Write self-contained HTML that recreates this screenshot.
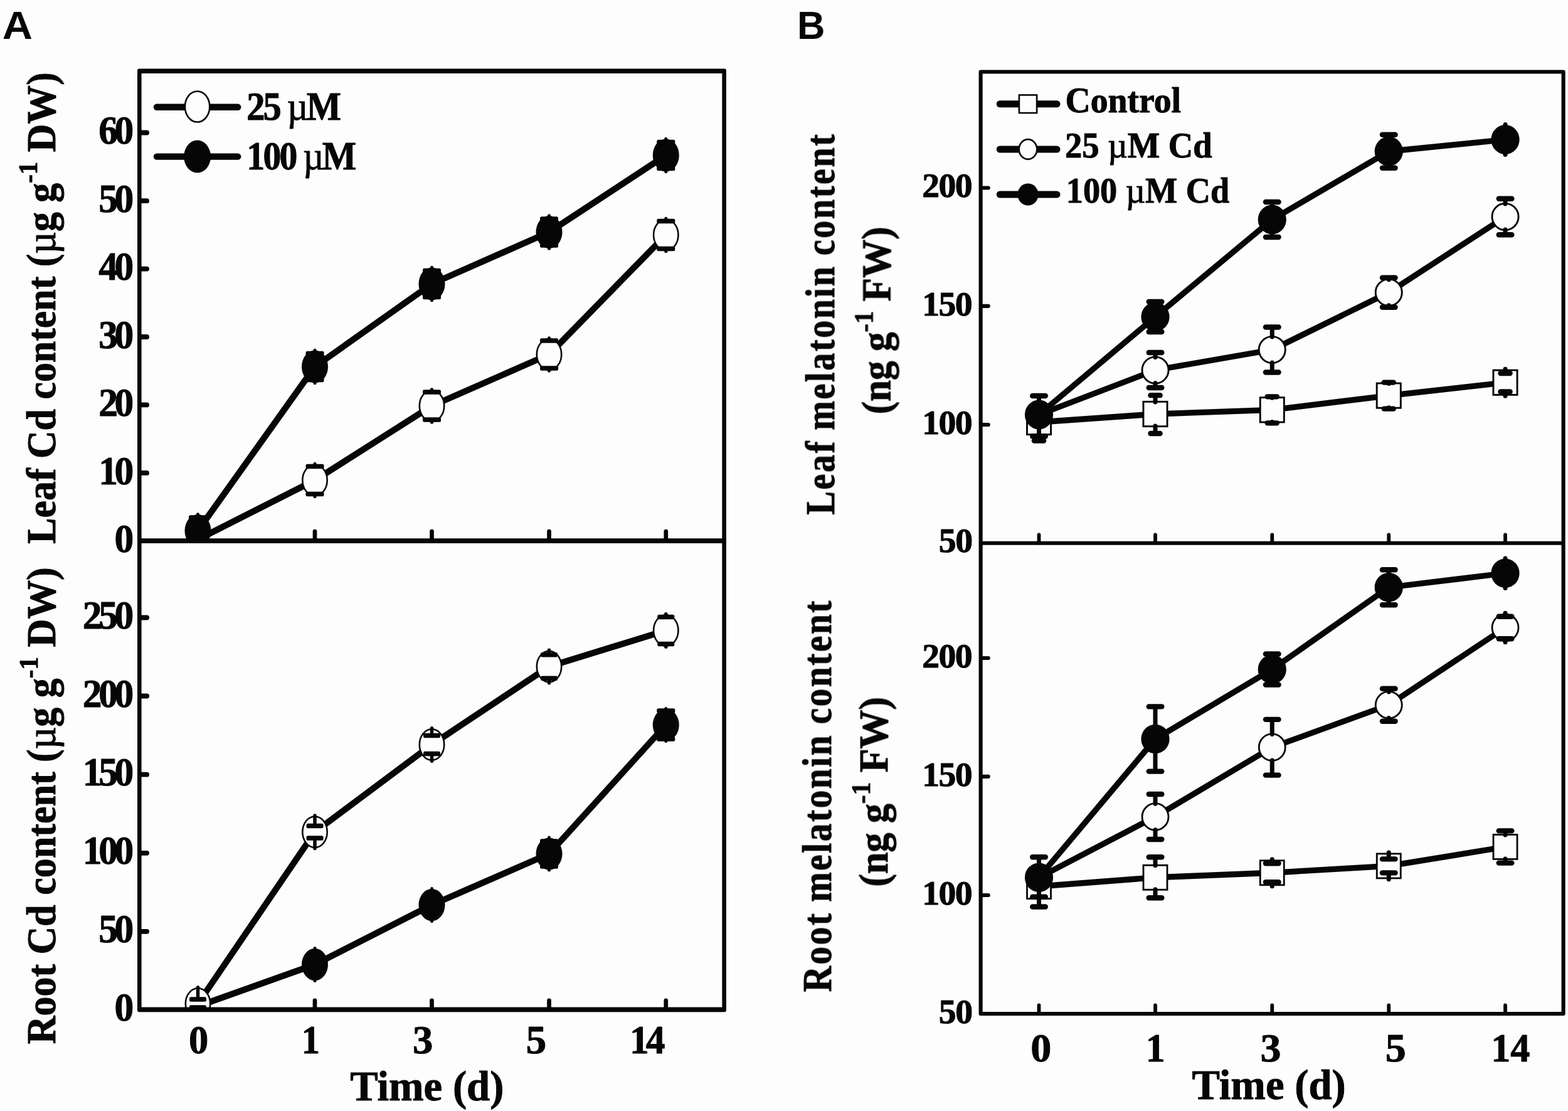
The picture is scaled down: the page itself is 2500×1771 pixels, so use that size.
<!DOCTYPE html>
<html lang="en">
<head>
<meta charset="utf-8">
<title>Cd and melatonin content time course</title>
<style>
html,body{margin:0;padding:0;background:#fdfdfd;}
body{width:2500px;height:1771px;overflow:hidden;}
svg{display:block;}
svg text{font-family:"Liberation Serif","DejaVu Serif",serif;font-weight:bold;fill:#060606;stroke:#060606;stroke-width:1;stroke-linejoin:round;}
svg text.sans{font-family:"Liberation Sans","DejaVu Sans",sans-serif;stroke:none;}
</style>
</head>
<body>
<svg width="2500" height="1771" viewBox="0 0 2500 1771" role="img" aria-label="Figure: Cd and melatonin content over time">
<rect width="2500" height="1771" fill="#fdfdfd"/>
<defs><filter id="soft" filterUnits="userSpaceOnUse" x="0" y="0" width="2500" height="1771" color-interpolation-filters="sRGB"><feGaussianBlur stdDeviation="0.55"/></filter><clipPath id="ca1"><rect x="222.3" y="113.25" width="932.3" height="748.85"/></clipPath><clipPath id="ca2"><rect x="222.3" y="862.1" width="932.3" height="747.3"/></clipPath><clipPath id="cb1"><rect x="1563.6" y="114.5" width="929" height="751.2"/></clipPath><clipPath id="cb2"><rect x="1563.6" y="865.7" width="929" height="750.4"/></clipPath></defs>
<g filter="url(#soft)">
<g id="plots">
<g clip-path="url(#ca1)">
<polyline points="315.5,860 502,765.5 688.5,647 875.5,565 1061.75,374.5" fill="none" stroke="#060606" stroke-width="10" stroke-linejoin="round" stroke-linecap="round"/>
<ellipse cx="502" cy="765.5" rx="19.7" ry="24.7" fill="#fdfdfd" stroke="#060606" stroke-width="2.6"/>
<line x1="502" y1="743.5" x2="502" y2="739.2" stroke="#060606" stroke-width="5" stroke-linecap="round"/>
<rect x="487.5" y="739.75" width="29" height="7.5" fill="#060606" rx="2.5"/>
<line x1="502" y1="787.5" x2="502" y2="791.8" stroke="#060606" stroke-width="5" stroke-linecap="round"/>
<rect x="487.5" y="783.75" width="29" height="7.5" fill="#060606" rx="2.5"/>
<ellipse cx="688.5" cy="647" rx="19.7" ry="24.7" fill="#fdfdfd" stroke="#060606" stroke-width="2.6"/>
<line x1="688.5" y1="625" x2="688.5" y2="620.7" stroke="#060606" stroke-width="5" stroke-linecap="round"/>
<rect x="674" y="621.25" width="29" height="7.5" fill="#060606" rx="2.5"/>
<line x1="688.5" y1="669" x2="688.5" y2="673.3" stroke="#060606" stroke-width="5" stroke-linecap="round"/>
<rect x="674" y="665.25" width="29" height="7.5" fill="#060606" rx="2.5"/>
<ellipse cx="875.5" cy="565" rx="19.7" ry="24.7" fill="#fdfdfd" stroke="#060606" stroke-width="2.6"/>
<line x1="875.5" y1="543" x2="875.5" y2="538.7" stroke="#060606" stroke-width="5" stroke-linecap="round"/>
<rect x="861" y="539.25" width="29" height="7.5" fill="#060606" rx="2.5"/>
<line x1="875.5" y1="587" x2="875.5" y2="591.3" stroke="#060606" stroke-width="5" stroke-linecap="round"/>
<rect x="861" y="583.25" width="29" height="7.5" fill="#060606" rx="2.5"/>
<ellipse cx="1061.75" cy="374.5" rx="19.7" ry="24.7" fill="#fdfdfd" stroke="#060606" stroke-width="2.6"/>
<line x1="1061.75" y1="352.5" x2="1061.75" y2="348.2" stroke="#060606" stroke-width="5" stroke-linecap="round"/>
<rect x="1047.25" y="348.75" width="29" height="7.5" fill="#060606" rx="2.5"/>
<line x1="1061.75" y1="396.5" x2="1061.75" y2="400.8" stroke="#060606" stroke-width="5" stroke-linecap="round"/>
<rect x="1047.25" y="392.75" width="29" height="7.5" fill="#060606" rx="2.5"/>
<polyline points="315.5,846 502,584.5 688.5,452.5 875.5,370 1061.75,247.5" fill="none" stroke="#060606" stroke-width="10" stroke-linejoin="round" stroke-linecap="round"/>
<ellipse cx="315.5" cy="846" rx="21" ry="26" fill="#060606"/>
<line x1="315.5" y1="825" x2="315.5" y2="819.7" stroke="#060606" stroke-width="5" stroke-linecap="round"/>
<rect x="301" y="821.25" width="29" height="7.5" fill="#060606" rx="2.5"/>
<line x1="315.5" y1="867" x2="315.5" y2="872.3" stroke="#060606" stroke-width="5" stroke-linecap="round"/>
<rect x="301" y="863.25" width="29" height="7.5" fill="#060606" rx="2.5"/>
<ellipse cx="502" cy="584.5" rx="21" ry="26" fill="#060606"/>
<line x1="502" y1="563.5" x2="502" y2="558.2" stroke="#060606" stroke-width="5" stroke-linecap="round"/>
<rect x="487.5" y="559.75" width="29" height="7.5" fill="#060606" rx="2.5"/>
<line x1="502" y1="605.5" x2="502" y2="610.8" stroke="#060606" stroke-width="5" stroke-linecap="round"/>
<rect x="487.5" y="601.75" width="29" height="7.5" fill="#060606" rx="2.5"/>
<ellipse cx="688.5" cy="452.5" rx="21" ry="26" fill="#060606"/>
<line x1="688.5" y1="431.5" x2="688.5" y2="426.2" stroke="#060606" stroke-width="5" stroke-linecap="round"/>
<rect x="674" y="427.75" width="29" height="7.5" fill="#060606" rx="2.5"/>
<line x1="688.5" y1="473.5" x2="688.5" y2="478.8" stroke="#060606" stroke-width="5" stroke-linecap="round"/>
<rect x="674" y="469.75" width="29" height="7.5" fill="#060606" rx="2.5"/>
<ellipse cx="875.5" cy="370" rx="21" ry="26" fill="#060606"/>
<line x1="875.5" y1="349" x2="875.5" y2="343.7" stroke="#060606" stroke-width="5" stroke-linecap="round"/>
<rect x="861" y="345.25" width="29" height="7.5" fill="#060606" rx="2.5"/>
<line x1="875.5" y1="391" x2="875.5" y2="396.3" stroke="#060606" stroke-width="5" stroke-linecap="round"/>
<rect x="861" y="387.25" width="29" height="7.5" fill="#060606" rx="2.5"/>
<ellipse cx="1061.75" cy="247.5" rx="21" ry="26" fill="#060606"/>
<line x1="1061.75" y1="226.5" x2="1061.75" y2="221.2" stroke="#060606" stroke-width="5" stroke-linecap="round"/>
<rect x="1047.25" y="222.75" width="29" height="7.5" fill="#060606" rx="2.5"/>
<line x1="1061.75" y1="268.5" x2="1061.75" y2="273.8" stroke="#060606" stroke-width="5" stroke-linecap="round"/>
<rect x="1047.25" y="264.75" width="29" height="7.5" fill="#060606" rx="2.5"/>
</g>
<g clip-path="url(#ca2)">
<polyline points="315.5,1604 502,1537.5 688.5,1442.5 875.5,1361 1061.75,1155.5" fill="none" stroke="#060606" stroke-width="10" stroke-linejoin="round" stroke-linecap="round"/>
<ellipse cx="502" cy="1537.5" rx="21" ry="25.6" fill="#060606"/>
<line x1="502" y1="1527.5" x2="502" y2="1511.6" stroke="#060606" stroke-width="5" stroke-linecap="round"/>
<rect x="487.5" y="1523.75" width="29" height="7.5" fill="#060606" rx="2.5"/>
<line x1="502" y1="1547.5" x2="502" y2="1563.4" stroke="#060606" stroke-width="5" stroke-linecap="round"/>
<rect x="487.5" y="1543.75" width="29" height="7.5" fill="#060606" rx="2.5"/>
<ellipse cx="688.5" cy="1442.5" rx="21" ry="25.6" fill="#060606"/>
<line x1="688.5" y1="1432.5" x2="688.5" y2="1416.6" stroke="#060606" stroke-width="5" stroke-linecap="round"/>
<rect x="674" y="1428.75" width="29" height="7.5" fill="#060606" rx="2.5"/>
<line x1="688.5" y1="1452.5" x2="688.5" y2="1468.4" stroke="#060606" stroke-width="5" stroke-linecap="round"/>
<rect x="674" y="1448.75" width="29" height="7.5" fill="#060606" rx="2.5"/>
<ellipse cx="875.5" cy="1361" rx="21" ry="25.6" fill="#060606"/>
<line x1="875.5" y1="1341" x2="875.5" y2="1335.1" stroke="#060606" stroke-width="5" stroke-linecap="round"/>
<rect x="861" y="1337.25" width="29" height="7.5" fill="#060606" rx="2.5"/>
<line x1="875.5" y1="1381" x2="875.5" y2="1386.9" stroke="#060606" stroke-width="5" stroke-linecap="round"/>
<rect x="861" y="1377.25" width="29" height="7.5" fill="#060606" rx="2.5"/>
<ellipse cx="1061.75" cy="1155.5" rx="21" ry="25.6" fill="#060606"/>
<line x1="1061.75" y1="1133" x2="1061.75" y2="1129.6" stroke="#060606" stroke-width="5" stroke-linecap="round"/>
<rect x="1047.25" y="1129.25" width="29" height="7.5" fill="#060606" rx="2.5"/>
<line x1="1061.75" y1="1178" x2="1061.75" y2="1181.4" stroke="#060606" stroke-width="5" stroke-linecap="round"/>
<rect x="1047.25" y="1174.25" width="29" height="7.5" fill="#060606" rx="2.5"/>
<polyline points="315.5,1600 502,1326.25 688.5,1187 875.5,1062.5 1061.75,1005" fill="none" stroke="#060606" stroke-width="10" stroke-linejoin="round" stroke-linecap="round"/>
<ellipse cx="315.5" cy="1600" rx="19.7" ry="24.7" fill="#fdfdfd" stroke="#060606" stroke-width="2.6"/>
<line x1="315.5" y1="1593" x2="315.5" y2="1573.7" stroke="#060606" stroke-width="5.5" stroke-linecap="round"/>
<rect x="302" y="1589.25" width="27" height="7.5" fill="#060606" rx="2.5"/>
<line x1="315.5" y1="1606" x2="315.5" y2="1626.3" stroke="#060606" stroke-width="5.5" stroke-linecap="round"/>
<rect x="302" y="1602.25" width="27" height="7.5" fill="#060606" rx="2.5"/>
<ellipse cx="502" cy="1326.25" rx="19.7" ry="24.7" fill="#fdfdfd" stroke="#060606" stroke-width="2.6"/>
<line x1="502" y1="1316.5" x2="502" y2="1299.95" stroke="#060606" stroke-width="5.5" stroke-linecap="round"/>
<rect x="488.5" y="1312.75" width="27" height="7.5" fill="#060606" rx="2.5"/>
<line x1="502" y1="1336" x2="502" y2="1352.55" stroke="#060606" stroke-width="5.5" stroke-linecap="round"/>
<rect x="488.5" y="1332.25" width="27" height="7.5" fill="#060606" rx="2.5"/>
<ellipse cx="688.5" cy="1187" rx="19.7" ry="24.7" fill="#fdfdfd" stroke="#060606" stroke-width="2.6"/>
<line x1="688.5" y1="1172.6" x2="688.5" y2="1160.7" stroke="#060606" stroke-width="5.5" stroke-linecap="round"/>
<rect x="675" y="1168.85" width="27" height="7.5" fill="#060606" rx="2.5"/>
<line x1="688.5" y1="1201.4" x2="688.5" y2="1213.3" stroke="#060606" stroke-width="5.5" stroke-linecap="round"/>
<rect x="675" y="1197.65" width="27" height="7.5" fill="#060606" rx="2.5"/>
<ellipse cx="875.5" cy="1062.5" rx="19.7" ry="24.7" fill="#fdfdfd" stroke="#060606" stroke-width="2.6"/>
<line x1="875.5" y1="1043.75" x2="875.5" y2="1036.2" stroke="#060606" stroke-width="5.5" stroke-linecap="round"/>
<rect x="862" y="1040" width="27" height="7.5" fill="#060606" rx="2.5"/>
<line x1="875.5" y1="1081.25" x2="875.5" y2="1088.8" stroke="#060606" stroke-width="5.5" stroke-linecap="round"/>
<rect x="862" y="1077.5" width="27" height="7.5" fill="#060606" rx="2.5"/>
<ellipse cx="1061.75" cy="1005" rx="19.7" ry="24.7" fill="#fdfdfd" stroke="#060606" stroke-width="2.6"/>
<line x1="1061.75" y1="983.4" x2="1061.75" y2="978.7" stroke="#060606" stroke-width="5.5" stroke-linecap="round"/>
<rect x="1048.25" y="979.65" width="27" height="7.5" fill="#060606" rx="2.5"/>
<line x1="1061.75" y1="1026.6" x2="1061.75" y2="1031.3" stroke="#060606" stroke-width="5.5" stroke-linecap="round"/>
<rect x="1048.25" y="1022.85" width="27" height="7.5" fill="#060606" rx="2.5"/>
</g>
<line x1="223.5" y1="211.5" x2="234.1" y2="211.5" stroke="#060606" stroke-width="7.8" stroke-linecap="round"/>
<line x1="223.5" y1="320.2" x2="234.1" y2="320.2" stroke="#060606" stroke-width="7.8" stroke-linecap="round"/>
<line x1="223.5" y1="428.6" x2="234.1" y2="428.6" stroke="#060606" stroke-width="7.8" stroke-linecap="round"/>
<line x1="223.5" y1="537" x2="234.1" y2="537" stroke="#060606" stroke-width="7.8" stroke-linecap="round"/>
<line x1="223.5" y1="645.4" x2="234.1" y2="645.4" stroke="#060606" stroke-width="7.8" stroke-linecap="round"/>
<line x1="223.5" y1="753.9" x2="234.1" y2="753.9" stroke="#060606" stroke-width="7.8" stroke-linecap="round"/>
<line x1="223.5" y1="984.5" x2="234.1" y2="984.5" stroke="#060606" stroke-width="7.8" stroke-linecap="round"/>
<line x1="223.5" y1="1109.5" x2="234.1" y2="1109.5" stroke="#060606" stroke-width="7.8" stroke-linecap="round"/>
<line x1="223.5" y1="1234.7" x2="234.1" y2="1234.7" stroke="#060606" stroke-width="7.8" stroke-linecap="round"/>
<line x1="223.5" y1="1359.8" x2="234.1" y2="1359.8" stroke="#060606" stroke-width="7.8" stroke-linecap="round"/>
<line x1="223.5" y1="1484.8" x2="234.1" y2="1484.8" stroke="#060606" stroke-width="7.8" stroke-linecap="round"/>
<line x1="502" y1="861.6" x2="502" y2="847.05" stroke="#060606" stroke-width="6.7" stroke-linecap="round"/>
<line x1="688.5" y1="861.6" x2="688.5" y2="847.05" stroke="#060606" stroke-width="6.7" stroke-linecap="round"/>
<line x1="875.5" y1="861.6" x2="875.5" y2="847.05" stroke="#060606" stroke-width="6.7" stroke-linecap="round"/>
<line x1="1061.75" y1="861.6" x2="1061.75" y2="847.05" stroke="#060606" stroke-width="6.7" stroke-linecap="round"/>
<line x1="502" y1="1608.9" x2="502" y2="1594.8" stroke="#060606" stroke-width="6.7" stroke-linecap="round"/>
<line x1="688.5" y1="1608.9" x2="688.5" y2="1594.8" stroke="#060606" stroke-width="6.7" stroke-linecap="round"/>
<line x1="875.5" y1="1608.9" x2="875.5" y2="1594.8" stroke="#060606" stroke-width="6.7" stroke-linecap="round"/>
<line x1="1061.75" y1="1608.9" x2="1061.75" y2="1594.8" stroke="#060606" stroke-width="6.7" stroke-linecap="round"/>
<path d="M222 109.4H1154.9Q1157.9 109.4 1157.9 112.4V1610.25Q1157.9 1613.25 1154.9 1613.25H222Q219 1613.25 219 1610.25V112.4Q219 109.4 222 109.4ZM225.6 117.1H1151.3V858.25H225.6ZM225.6 865.95H1151.3V1605.55H225.6Z" fill="#060606" fill-rule="evenodd"/>
<line x1="249.95" y1="170.8" x2="379.2" y2="170.8" stroke="#060606" stroke-width="10.4" stroke-linecap="round"/>
<ellipse cx="314.6" cy="170" rx="19.7" ry="24.5" fill="#fdfdfd" stroke="#060606" stroke-width="2.6"/>
<line x1="249.95" y1="249.6" x2="379.2" y2="249.6" stroke="#060606" stroke-width="10.4" stroke-linecap="round"/>
<ellipse cx="314.6" cy="249.6" rx="21.4" ry="26" fill="#060606"/>
<g clip-path="url(#cb1)">
<polyline points="1656.5,673 1842,660 2028.25,653.3 2214.25,630.6 2400,609.75" fill="none" stroke="#060606" stroke-width="9.3" stroke-linejoin="round" stroke-linecap="round"/>
<rect x="1637.45" y="653.35" width="38.1" height="39.3" fill="#fdfdfd" stroke="#060606" stroke-width="2.9"/>
<line x1="1656.5" y1="692.1" x2="1656.5" y2="702.5" stroke="#060606" stroke-width="7" stroke-linecap="round"/>
<line x1="1648.9" y1="702.5" x2="1664.1" y2="702.5" stroke="#060606" stroke-width="8.3" stroke-linecap="round"/>
<rect x="1822.95" y="640.35" width="38.1" height="39.3" fill="#fdfdfd" stroke="#060606" stroke-width="2.9"/>
<line x1="1842" y1="640.9" x2="1842" y2="630.2" stroke="#060606" stroke-width="7" stroke-linecap="round"/>
<line x1="1834.4" y1="630.2" x2="1849.6" y2="630.2" stroke="#060606" stroke-width="8.3" stroke-linecap="round"/>
<line x1="1842" y1="679.1" x2="1842" y2="691" stroke="#060606" stroke-width="7" stroke-linecap="round"/>
<line x1="1834.4" y1="691" x2="1849.6" y2="691" stroke="#060606" stroke-width="8.3" stroke-linecap="round"/>
<rect x="2009.2" y="633.65" width="38.1" height="39.3" fill="#fdfdfd" stroke="#060606" stroke-width="2.9"/>
<line x1="2028.25" y1="634.2" x2="2028.25" y2="632.3" stroke="#060606" stroke-width="7" stroke-linecap="round"/>
<line x1="2020.65" y1="632.3" x2="2035.85" y2="632.3" stroke="#060606" stroke-width="8.3" stroke-linecap="round"/>
<line x1="2028.25" y1="672.4" x2="2028.25" y2="674.3" stroke="#060606" stroke-width="7" stroke-linecap="round"/>
<line x1="2020.65" y1="674.3" x2="2035.85" y2="674.3" stroke="#060606" stroke-width="8.3" stroke-linecap="round"/>
<rect x="2195.2" y="610.95" width="38.1" height="39.3" fill="#fdfdfd" stroke="#060606" stroke-width="2.9"/>
<line x1="2214.25" y1="611.5" x2="2214.25" y2="609.6" stroke="#060606" stroke-width="7" stroke-linecap="round"/>
<line x1="2206.65" y1="609.6" x2="2221.85" y2="609.6" stroke="#060606" stroke-width="8.3" stroke-linecap="round"/>
<line x1="2214.25" y1="649.7" x2="2214.25" y2="651.6" stroke="#060606" stroke-width="7" stroke-linecap="round"/>
<line x1="2206.65" y1="651.6" x2="2221.85" y2="651.6" stroke="#060606" stroke-width="8.3" stroke-linecap="round"/>
<rect x="2380.95" y="590.1" width="38.1" height="39.3" fill="#fdfdfd" stroke="#060606" stroke-width="2.9"/>
<line x1="2400" y1="595" x2="2400" y2="588.15" stroke="#060606" stroke-width="7" stroke-linecap="round"/>
<line x1="2392.4" y1="595" x2="2407.6" y2="595" stroke="#060606" stroke-width="8.3" stroke-linecap="round"/>
<line x1="2400" y1="624.5" x2="2400" y2="631.35" stroke="#060606" stroke-width="7" stroke-linecap="round"/>
<line x1="2392.4" y1="624.5" x2="2407.6" y2="624.5" stroke="#060606" stroke-width="8.3" stroke-linecap="round"/>
<polyline points="1656.5,661 1842,590 2028.25,557.5 2214.25,466.25 2400,345.5" fill="none" stroke="#060606" stroke-width="9.3" stroke-linejoin="round" stroke-linecap="round"/>
<ellipse cx="1842" cy="590" rx="21.05" ry="21.15" fill="#fdfdfd" stroke="#060606" stroke-width="2.9"/>
<line x1="1842" y1="569.4" x2="1842" y2="562" stroke="#060606" stroke-width="7" stroke-linecap="round"/>
<line x1="1831.65" y1="562" x2="1852.35" y2="562" stroke="#060606" stroke-width="8.3" stroke-linecap="round"/>
<line x1="1842" y1="610.6" x2="1842" y2="618" stroke="#060606" stroke-width="7" stroke-linecap="round"/>
<line x1="1831.65" y1="618" x2="1852.35" y2="618" stroke="#060606" stroke-width="8.3" stroke-linecap="round"/>
<ellipse cx="2028.25" cy="557.5" rx="21.05" ry="21.15" fill="#fdfdfd" stroke="#060606" stroke-width="2.9"/>
<line x1="2028.25" y1="536.9" x2="2028.25" y2="521.5" stroke="#060606" stroke-width="7" stroke-linecap="round"/>
<line x1="2017.9" y1="521.5" x2="2038.6" y2="521.5" stroke="#060606" stroke-width="8.3" stroke-linecap="round"/>
<line x1="2028.25" y1="578.1" x2="2028.25" y2="593.5" stroke="#060606" stroke-width="7" stroke-linecap="round"/>
<line x1="2017.9" y1="593.5" x2="2038.6" y2="593.5" stroke="#060606" stroke-width="8.3" stroke-linecap="round"/>
<ellipse cx="2214.25" cy="466.25" rx="21.05" ry="21.15" fill="#fdfdfd" stroke="#060606" stroke-width="2.9"/>
<line x1="2214.25" y1="445.65" x2="2214.25" y2="442.75" stroke="#060606" stroke-width="7" stroke-linecap="round"/>
<line x1="2203.9" y1="442.75" x2="2224.6" y2="442.75" stroke="#060606" stroke-width="8.3" stroke-linecap="round"/>
<line x1="2214.25" y1="486.85" x2="2214.25" y2="489.75" stroke="#060606" stroke-width="7" stroke-linecap="round"/>
<line x1="2203.9" y1="489.75" x2="2224.6" y2="489.75" stroke="#060606" stroke-width="8.3" stroke-linecap="round"/>
<ellipse cx="2400" cy="345.5" rx="21.05" ry="21.15" fill="#fdfdfd" stroke="#060606" stroke-width="2.9"/>
<line x1="2400" y1="324.9" x2="2400" y2="316.75" stroke="#060606" stroke-width="7" stroke-linecap="round"/>
<line x1="2389.65" y1="316.75" x2="2410.35" y2="316.75" stroke="#060606" stroke-width="8.3" stroke-linecap="round"/>
<line x1="2400" y1="366.1" x2="2400" y2="374.25" stroke="#060606" stroke-width="7" stroke-linecap="round"/>
<line x1="2389.65" y1="374.25" x2="2410.35" y2="374.25" stroke="#060606" stroke-width="8.3" stroke-linecap="round"/>
<polyline points="1656.5,661 1842,505 2028.25,350 2214.25,241.25 2400,222.5" fill="none" stroke="#060606" stroke-width="9.3" stroke-linejoin="round" stroke-linecap="round"/>
<ellipse cx="1656.5" cy="661" rx="22.6" ry="23.5" fill="#060606"/>
<line x1="1656.5" y1="639.5" x2="1656.5" y2="631" stroke="#060606" stroke-width="7" stroke-linecap="round"/>
<line x1="1646.15" y1="631" x2="1666.85" y2="631" stroke="#060606" stroke-width="8.3" stroke-linecap="round"/>
<line x1="1656.5" y1="682.5" x2="1656.5" y2="695.5" stroke="#060606" stroke-width="7" stroke-linecap="round"/>
<line x1="1646.15" y1="695.5" x2="1666.85" y2="695.5" stroke="#060606" stroke-width="8.3" stroke-linecap="round"/>
<ellipse cx="1842" cy="505" rx="22.6" ry="23.5" fill="#060606"/>
<line x1="1842" y1="483.5" x2="1842" y2="481" stroke="#060606" stroke-width="7" stroke-linecap="round"/>
<line x1="1831.65" y1="481" x2="1852.35" y2="481" stroke="#060606" stroke-width="8.3" stroke-linecap="round"/>
<line x1="1842" y1="526.5" x2="1842" y2="529" stroke="#060606" stroke-width="7" stroke-linecap="round"/>
<line x1="1831.65" y1="529" x2="1852.35" y2="529" stroke="#060606" stroke-width="8.3" stroke-linecap="round"/>
<ellipse cx="2028.25" cy="350" rx="22.6" ry="23.5" fill="#060606"/>
<line x1="2028.25" y1="328.5" x2="2028.25" y2="322" stroke="#060606" stroke-width="7" stroke-linecap="round"/>
<line x1="2017.9" y1="322" x2="2038.6" y2="322" stroke="#060606" stroke-width="8.3" stroke-linecap="round"/>
<line x1="2028.25" y1="371.5" x2="2028.25" y2="378" stroke="#060606" stroke-width="7" stroke-linecap="round"/>
<line x1="2017.9" y1="378" x2="2038.6" y2="378" stroke="#060606" stroke-width="8.3" stroke-linecap="round"/>
<ellipse cx="2214.25" cy="241.25" rx="22.6" ry="23.5" fill="#060606"/>
<line x1="2214.25" y1="219.75" x2="2214.25" y2="214.75" stroke="#060606" stroke-width="7" stroke-linecap="round"/>
<line x1="2203.9" y1="214.75" x2="2224.6" y2="214.75" stroke="#060606" stroke-width="8.3" stroke-linecap="round"/>
<line x1="2214.25" y1="262.75" x2="2214.25" y2="267.75" stroke="#060606" stroke-width="7" stroke-linecap="round"/>
<line x1="2203.9" y1="267.75" x2="2224.6" y2="267.75" stroke="#060606" stroke-width="8.3" stroke-linecap="round"/>
<ellipse cx="2400" cy="222.5" rx="22.6" ry="23.5" fill="#060606"/>
<line x1="2400" y1="222.5" x2="2400" y2="198.5" stroke="#060606" stroke-width="7" stroke-linecap="round"/>
<line x1="2400" y1="222.5" x2="2400" y2="246.5" stroke="#060606" stroke-width="7" stroke-linecap="round"/>
</g>
<g clip-path="url(#cb2)">
<polyline points="1656.5,1413 1842,1398.75 2028.25,1391.25 2214.25,1380.4 2400,1350" fill="none" stroke="#060606" stroke-width="9.3" stroke-linejoin="round" stroke-linecap="round"/>
<rect x="1637.5" y="1393.5" width="38" height="39" fill="#fdfdfd" stroke="#060606" stroke-width="2.8"/>
<line x1="1656.5" y1="1431.9" x2="1656.5" y2="1445.5" stroke="#060606" stroke-width="7" stroke-linecap="round"/>
<line x1="1646.15" y1="1445.5" x2="1666.85" y2="1445.5" stroke="#060606" stroke-width="8.3" stroke-linecap="round"/>
<rect x="1823" y="1379.25" width="38" height="39" fill="#fdfdfd" stroke="#060606" stroke-width="2.8"/>
<line x1="1842" y1="1379.85" x2="1842" y2="1366.25" stroke="#060606" stroke-width="7" stroke-linecap="round"/>
<line x1="1831.65" y1="1366.25" x2="1852.35" y2="1366.25" stroke="#060606" stroke-width="8.3" stroke-linecap="round"/>
<line x1="1842" y1="1417.65" x2="1842" y2="1431.25" stroke="#060606" stroke-width="7" stroke-linecap="round"/>
<line x1="1831.65" y1="1431.25" x2="1852.35" y2="1431.25" stroke="#060606" stroke-width="8.3" stroke-linecap="round"/>
<rect x="2009.25" y="1371.75" width="38" height="39" fill="#fdfdfd" stroke="#060606" stroke-width="2.8"/>
<line x1="2028.25" y1="1376.25" x2="2028.25" y2="1369.85" stroke="#060606" stroke-width="7" stroke-linecap="round"/>
<line x1="2017.9" y1="1376.25" x2="2038.6" y2="1376.25" stroke="#060606" stroke-width="8.3" stroke-linecap="round"/>
<line x1="2028.25" y1="1406.25" x2="2028.25" y2="1412.65" stroke="#060606" stroke-width="7" stroke-linecap="round"/>
<line x1="2017.9" y1="1406.25" x2="2038.6" y2="1406.25" stroke="#060606" stroke-width="8.3" stroke-linecap="round"/>
<rect x="2195.25" y="1360.9" width="38" height="39" fill="#fdfdfd" stroke="#060606" stroke-width="2.8"/>
<line x1="2214.25" y1="1369.4" x2="2214.25" y2="1359" stroke="#060606" stroke-width="7" stroke-linecap="round"/>
<line x1="2203.9" y1="1369.4" x2="2224.6" y2="1369.4" stroke="#060606" stroke-width="8.3" stroke-linecap="round"/>
<line x1="2214.25" y1="1391.4" x2="2214.25" y2="1401.8" stroke="#060606" stroke-width="7" stroke-linecap="round"/>
<line x1="2203.9" y1="1391.4" x2="2224.6" y2="1391.4" stroke="#060606" stroke-width="8.3" stroke-linecap="round"/>
<rect x="2381" y="1330.5" width="38" height="39" fill="#fdfdfd" stroke="#060606" stroke-width="2.8"/>
<line x1="2400" y1="1331.1" x2="2400" y2="1324.4" stroke="#060606" stroke-width="7" stroke-linecap="round"/>
<line x1="2389.65" y1="1324.4" x2="2410.35" y2="1324.4" stroke="#060606" stroke-width="8.3" stroke-linecap="round"/>
<line x1="2400" y1="1368.9" x2="2400" y2="1375.6" stroke="#060606" stroke-width="7" stroke-linecap="round"/>
<line x1="2389.65" y1="1375.6" x2="2410.35" y2="1375.6" stroke="#060606" stroke-width="8.3" stroke-linecap="round"/>
<polyline points="1656.5,1398.75 1842,1302 2028.25,1191.25 2214.25,1123.75 2400,1000.5" fill="none" stroke="#060606" stroke-width="9.3" stroke-linejoin="round" stroke-linecap="round"/>
<ellipse cx="1842" cy="1302" rx="21" ry="21.35" fill="#fdfdfd" stroke="#060606" stroke-width="2.8"/>
<line x1="1842" y1="1281.25" x2="1842" y2="1266" stroke="#060606" stroke-width="7" stroke-linecap="round"/>
<line x1="1831.65" y1="1266" x2="1852.35" y2="1266" stroke="#060606" stroke-width="8.3" stroke-linecap="round"/>
<line x1="1842" y1="1322.75" x2="1842" y2="1338" stroke="#060606" stroke-width="7" stroke-linecap="round"/>
<line x1="1831.65" y1="1338" x2="1852.35" y2="1338" stroke="#060606" stroke-width="8.3" stroke-linecap="round"/>
<ellipse cx="2028.25" cy="1191.25" rx="21" ry="21.35" fill="#fdfdfd" stroke="#060606" stroke-width="2.8"/>
<line x1="2028.25" y1="1170.5" x2="2028.25" y2="1146.85" stroke="#060606" stroke-width="7" stroke-linecap="round"/>
<line x1="2017.9" y1="1146.85" x2="2038.6" y2="1146.85" stroke="#060606" stroke-width="8.3" stroke-linecap="round"/>
<line x1="2028.25" y1="1212" x2="2028.25" y2="1235.65" stroke="#060606" stroke-width="7" stroke-linecap="round"/>
<line x1="2017.9" y1="1235.65" x2="2038.6" y2="1235.65" stroke="#060606" stroke-width="8.3" stroke-linecap="round"/>
<ellipse cx="2214.25" cy="1123.75" rx="21" ry="21.35" fill="#fdfdfd" stroke="#060606" stroke-width="2.8"/>
<line x1="2214.25" y1="1103" x2="2214.25" y2="1097.75" stroke="#060606" stroke-width="7" stroke-linecap="round"/>
<line x1="2203.9" y1="1097.75" x2="2224.6" y2="1097.75" stroke="#060606" stroke-width="8.3" stroke-linecap="round"/>
<line x1="2214.25" y1="1144.5" x2="2214.25" y2="1149.75" stroke="#060606" stroke-width="7" stroke-linecap="round"/>
<line x1="2203.9" y1="1149.75" x2="2224.6" y2="1149.75" stroke="#060606" stroke-width="8.3" stroke-linecap="round"/>
<ellipse cx="2400" cy="1000.5" rx="21" ry="21.35" fill="#fdfdfd" stroke="#060606" stroke-width="2.8"/>
<line x1="2400" y1="982.75" x2="2400" y2="977.25" stroke="#060606" stroke-width="7" stroke-linecap="round"/>
<line x1="2389.65" y1="982.75" x2="2410.35" y2="982.75" stroke="#060606" stroke-width="8.3" stroke-linecap="round"/>
<line x1="2400" y1="1018.25" x2="2400" y2="1023.75" stroke="#060606" stroke-width="7" stroke-linecap="round"/>
<line x1="2389.65" y1="1018.25" x2="2410.35" y2="1018.25" stroke="#060606" stroke-width="8.3" stroke-linecap="round"/>
<polyline points="1656.5,1398.75 1842,1178 2028.25,1067 2214.25,936.25 2400,913.75" fill="none" stroke="#060606" stroke-width="9.3" stroke-linejoin="round" stroke-linecap="round"/>
<ellipse cx="1656.5" cy="1398.75" rx="22.6" ry="23.2" fill="#060606"/>
<line x1="1656.5" y1="1377.55" x2="1656.5" y2="1366.25" stroke="#060606" stroke-width="7" stroke-linecap="round"/>
<line x1="1646.15" y1="1366.25" x2="1666.85" y2="1366.25" stroke="#060606" stroke-width="8.3" stroke-linecap="round"/>
<line x1="1656.5" y1="1419.95" x2="1656.5" y2="1429.75" stroke="#060606" stroke-width="7" stroke-linecap="round"/>
<line x1="1646.15" y1="1429.75" x2="1666.85" y2="1429.75" stroke="#060606" stroke-width="8.3" stroke-linecap="round"/>
<ellipse cx="1842" cy="1178" rx="22.6" ry="23.2" fill="#060606"/>
<line x1="1842" y1="1156.8" x2="1842" y2="1126.4" stroke="#060606" stroke-width="7" stroke-linecap="round"/>
<line x1="1831.65" y1="1126.4" x2="1852.35" y2="1126.4" stroke="#060606" stroke-width="8.3" stroke-linecap="round"/>
<line x1="1842" y1="1199.2" x2="1842" y2="1229.6" stroke="#060606" stroke-width="7" stroke-linecap="round"/>
<line x1="1831.65" y1="1229.6" x2="1852.35" y2="1229.6" stroke="#060606" stroke-width="8.3" stroke-linecap="round"/>
<ellipse cx="2028.25" cy="1067" rx="22.6" ry="23.2" fill="#060606"/>
<line x1="2028.25" y1="1045.8" x2="2028.25" y2="1042.5" stroke="#060606" stroke-width="7" stroke-linecap="round"/>
<line x1="2017.9" y1="1042.5" x2="2038.6" y2="1042.5" stroke="#060606" stroke-width="8.3" stroke-linecap="round"/>
<line x1="2028.25" y1="1088.2" x2="2028.25" y2="1091.5" stroke="#060606" stroke-width="7" stroke-linecap="round"/>
<line x1="2017.9" y1="1091.5" x2="2038.6" y2="1091.5" stroke="#060606" stroke-width="8.3" stroke-linecap="round"/>
<ellipse cx="2214.25" cy="936.25" rx="22.6" ry="23.2" fill="#060606"/>
<line x1="2214.25" y1="915.05" x2="2214.25" y2="908.25" stroke="#060606" stroke-width="7" stroke-linecap="round"/>
<line x1="2203.9" y1="908.25" x2="2224.6" y2="908.25" stroke="#060606" stroke-width="8.3" stroke-linecap="round"/>
<line x1="2214.25" y1="957.45" x2="2214.25" y2="964.25" stroke="#060606" stroke-width="7" stroke-linecap="round"/>
<line x1="2203.9" y1="964.25" x2="2224.6" y2="964.25" stroke="#060606" stroke-width="8.3" stroke-linecap="round"/>
<ellipse cx="2400" cy="913.75" rx="22.6" ry="23.2" fill="#060606"/>
<line x1="2400" y1="913.75" x2="2400" y2="890.05" stroke="#060606" stroke-width="7" stroke-linecap="round"/>
<line x1="2400" y1="913.75" x2="2400" y2="937.45" stroke="#060606" stroke-width="7" stroke-linecap="round"/>
</g>
<line x1="1564.6" y1="299.5" x2="1575.65" y2="299.5" stroke="#060606" stroke-width="6.2" stroke-linecap="round"/>
<line x1="1564.6" y1="487.8" x2="1575.65" y2="487.8" stroke="#060606" stroke-width="6.2" stroke-linecap="round"/>
<line x1="1564.6" y1="677" x2="1575.65" y2="677" stroke="#060606" stroke-width="6.2" stroke-linecap="round"/>
<line x1="1564.6" y1="1049" x2="1575.65" y2="1049" stroke="#060606" stroke-width="6.2" stroke-linecap="round"/>
<line x1="1564.6" y1="1237.8" x2="1575.65" y2="1237.8" stroke="#060606" stroke-width="6.2" stroke-linecap="round"/>
<line x1="1564.6" y1="1427" x2="1575.65" y2="1427" stroke="#060606" stroke-width="6.2" stroke-linecap="round"/>
<line x1="1656.5" y1="865.4" x2="1656.5" y2="852.4" stroke="#060606" stroke-width="5.8" stroke-linecap="round"/>
<line x1="1656.5" y1="1615.8" x2="1656.5" y2="1602.4" stroke="#060606" stroke-width="5.8" stroke-linecap="round"/>
<line x1="1842" y1="865.4" x2="1842" y2="852.4" stroke="#060606" stroke-width="5.8" stroke-linecap="round"/>
<line x1="1842" y1="1615.8" x2="1842" y2="1602.4" stroke="#060606" stroke-width="5.8" stroke-linecap="round"/>
<line x1="2028.25" y1="865.4" x2="2028.25" y2="852.4" stroke="#060606" stroke-width="5.8" stroke-linecap="round"/>
<line x1="2028.25" y1="1615.8" x2="2028.25" y2="1602.4" stroke="#060606" stroke-width="5.8" stroke-linecap="round"/>
<line x1="2214.25" y1="865.4" x2="2214.25" y2="852.4" stroke="#060606" stroke-width="5.8" stroke-linecap="round"/>
<line x1="2214.25" y1="1615.8" x2="2214.25" y2="1602.4" stroke="#060606" stroke-width="5.8" stroke-linecap="round"/>
<line x1="2400" y1="865.4" x2="2400" y2="852.4" stroke="#060606" stroke-width="5.8" stroke-linecap="round"/>
<line x1="2400" y1="1615.8" x2="2400" y2="1602.4" stroke="#060606" stroke-width="5.8" stroke-linecap="round"/>
<path d="M1563.55 111.5H2492.65Q2495.65 111.5 2495.65 114.5V1616.1Q2495.65 1619.1 2492.65 1619.1H1563.55Q1560.55 1619.1 1560.55 1616.1V114.5Q1560.55 111.5 1563.55 111.5ZM1566.65 117.5H2489.55V862.7H1566.65ZM1566.65 868.7H2489.55V1613.1H1566.65Z" fill="#060606" fill-rule="evenodd"/>
<line x1="1594.25" y1="165.75" x2="1685" y2="165.75" stroke="#060606" stroke-width="11" stroke-linecap="round"/>
<rect x="1624.9" y="151.45" width="28.2" height="28.6" fill="#fdfdfd" stroke="#060606" stroke-width="2.6"/>
<line x1="1594.25" y1="238" x2="1685" y2="238" stroke="#060606" stroke-width="11" stroke-linecap="round"/>
<ellipse cx="1639" cy="238" rx="14.3" ry="15.9" fill="#fdfdfd" stroke="#060606" stroke-width="2.6"/>
<line x1="1594.25" y1="310" x2="1685" y2="310" stroke="#060606" stroke-width="11" stroke-linecap="round"/>
<ellipse cx="1639" cy="310" rx="16.5" ry="17.6" fill="#060606"/>
</g>
<g id="labels">
<text transform="translate(3.87 62) scale(1.0854 1.0350)" font-size="61.5" class="sans">A</text>
<text transform="translate(1271 62) scale(1.0000 1.0350)" font-size="61.5" class="sans">B</text>
<text transform="translate(157.18 229.1) scale(0.9769 1.0000)" font-size="63" letter-spacing="-5.5">60</text>
<text transform="translate(157.18 337.8) scale(0.9769 1.0000)" font-size="63" letter-spacing="-5.5">50</text>
<text transform="translate(157.18 446.2) scale(0.9769 1.0000)" font-size="63" letter-spacing="-5.5">40</text>
<text transform="translate(157.18 554.6) scale(0.9769 1.0000)" font-size="63" letter-spacing="-5.5">30</text>
<text transform="translate(157.18 663) scale(0.9769 1.0000)" font-size="63" letter-spacing="-5.5">20</text>
<text transform="translate(157.18 771.5) scale(0.9769 1.0000)" font-size="63" letter-spacing="-5.5">10</text>
<text transform="translate(182.58 879.7) scale(0.9769 1.0000)" font-size="63" letter-spacing="-5.5">0</text>
<text transform="translate(131.79 1002.1) scale(0.9769 1.0000)" font-size="63" letter-spacing="-5.5">250</text>
<text transform="translate(131.79 1127.1) scale(0.9769 1.0000)" font-size="63" letter-spacing="-5.5">200</text>
<text transform="translate(131.79 1252.3) scale(0.9769 1.0000)" font-size="63" letter-spacing="-5.5">150</text>
<text transform="translate(131.79 1377.4) scale(0.9769 1.0000)" font-size="63" letter-spacing="-5.5">100</text>
<text transform="translate(157.18 1502.4) scale(0.9769 1.0000)" font-size="63" letter-spacing="-5.5">50</text>
<text transform="translate(182.58 1627) scale(0.9769 1.0000)" font-size="63" letter-spacing="-5.5">0</text>
<text transform="translate(301 1678.9) scale(1.0000 1.0000)" font-size="62.5" letter-spacing="-5">0</text>
<text transform="translate(480.78 1678.9) scale(0.9375 1.0000)" font-size="62.5" letter-spacing="-5">1</text>
<text transform="translate(657.93 1678.9) scale(1.0364 1.0000)" font-size="62.5" letter-spacing="-5">3</text>
<text transform="translate(838.41 1678.9) scale(1.0455 1.0000)" font-size="62.5" letter-spacing="-5">5</text>
<text transform="translate(1004.09 1678.9) scale(0.9810 1.0000)" font-size="62.5" letter-spacing="-5">14</text>
<text transform="translate(1470.17 314.3) scale(1.0067 1.0000)" font-size="55.3" letter-spacing="-1.5">200</text>
<text transform="translate(1470.17 502.6) scale(1.0067 1.0000)" font-size="55.3" letter-spacing="-1.5">150</text>
<text transform="translate(1470.17 691.8) scale(1.0067 1.0000)" font-size="55.3" letter-spacing="-1.5">100</text>
<text transform="translate(1496.85 880.4) scale(1.0067 1.0000)" font-size="55.3" letter-spacing="-1.5">50</text>
<text transform="translate(1470.17 1063.8) scale(1.0067 1.0000)" font-size="55.3" letter-spacing="-1.5">200</text>
<text transform="translate(1470.17 1252.6) scale(1.0067 1.0000)" font-size="55.3" letter-spacing="-1.5">150</text>
<text transform="translate(1470.17 1441.8) scale(1.0067 1.0000)" font-size="55.3" letter-spacing="-1.5">100</text>
<text transform="translate(1496.85 1630.9) scale(1.0067 1.0000)" font-size="55.3" letter-spacing="-1.5">50</text>
<text transform="translate(1643.2 1691.8) scale(1.0268 1.0000)" font-size="64.4">0</text>
<text transform="translate(1826.68 1691.8) scale(0.9600 1.0000)" font-size="64.4">1</text>
<text transform="translate(2009.45 1691.8) scale(1.0263 1.0000)" font-size="64.4">3</text>
<text transform="translate(2208.7 1691.8) scale(1.0263 1.0000)" font-size="64.4">5</text>
<text transform="translate(2377.15 1691.8) scale(0.9664 1.0000)" font-size="64.4">14</text>
<text transform="translate(558.26 1753.75) scale(0.9868 1.0000)" font-size="67.6">Time (d)</text>
<text transform="translate(1900.51 1751.5) scale(0.9739 1.0000)" font-size="68.5">Time (d)</text>
<text transform="translate(87.5 866.73) rotate(-90) scale(0.9514 1.0000)" font-size="65">Leaf Cd content (<tspan font-weight="normal">µ</tspan>g g<tspan dy="-0.66em" font-size="0.66em">-1</tspan><tspan dy="0.4356em"> DW)</tspan></text>
<text transform="translate(88 1664.23) rotate(-90) scale(0.9534 1.0000)" font-size="65">Root Cd content (<tspan font-weight="normal">µ</tspan>g g<tspan dy="-0.66em" font-size="0.66em">-1</tspan><tspan dy="0.4356em"> DW)</tspan></text>
<text transform="translate(1330 820.43) rotate(-90) scale(0.8630 1.0000)" font-size="65" letter-spacing="3"><tspan word-spacing="-1.5">Leaf melatonin content</tspan></text>
<text transform="translate(1419.5 660.35) rotate(-90) scale(0.9416 1.0000)" font-size="65">(ng g<tspan dy="-0.66em" font-size="0.66em">-1</tspan><tspan dy="0.4356em"> FW)</tspan></text>
<text transform="translate(1325 1581.44) rotate(-90) scale(0.8788 1.0000)" font-size="65" letter-spacing="3"><tspan word-spacing="-1.5">Root melatonin content</tspan></text>
<text transform="translate(1415 1413.64) rotate(-90) scale(0.9544 1.0000)" font-size="65">(ng g<tspan dy="-0.66em" font-size="0.66em">-1</tspan><tspan dy="0.4356em"> FW)</tspan></text>
<text transform="translate(393.14 191.25) scale(0.9306 1.0000)" font-size="62.8" letter-spacing="-3">25 <tspan font-weight="normal">µ</tspan>M</text>
<text transform="translate(393.37 270) scale(0.9187 1.0000)" font-size="62.8" letter-spacing="-3">100 <tspan font-weight="normal">µ</tspan>M</text>
<text transform="translate(1698.51 178.75) scale(0.9945 1.0000)" font-size="56">Control</text>
<text transform="translate(1698.05 250.5) scale(0.9748 1.0000)" font-size="56">25 <tspan font-weight="normal">µ</tspan>M Cd</text>
<text transform="translate(1699.87 322.5) scale(0.9688 1.0000)" font-size="56">100 <tspan font-weight="normal">µ</tspan>M Cd</text>
</g>
</g>
</svg>
</body>
</html>
